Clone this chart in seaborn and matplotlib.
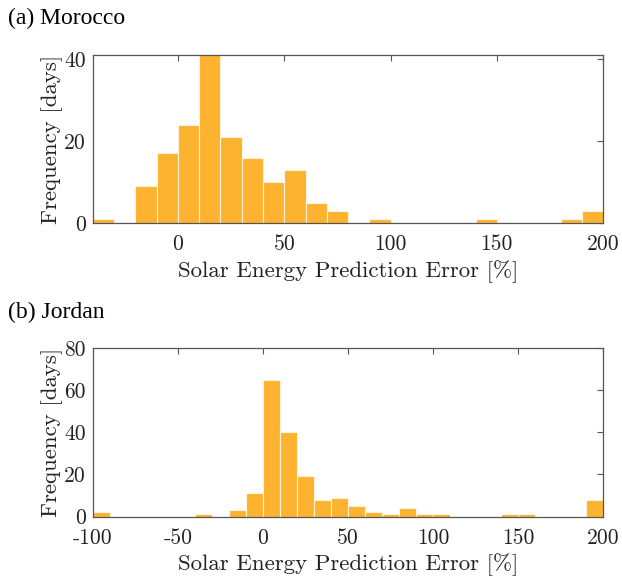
import numpy as np
import pandas as pd
import matplotlib
matplotlib.use("Agg")
import matplotlib.pyplot as plt
import seaborn as sns

# bin counts, 10 % wide bins
morocco_edges = np.arange(-40, 201, 10)
morocco_counts = [1, 0, 9, 17, 24, 41, 21, 16, 10, 13, 5, 3, 0, 1,
                  0, 0, 0, 0, 1, 0, 0, 0, 1, 3]

jordan_edges = np.arange(-100, 201, 10)
jordan_counts = [2, 0, 0, 0, 0, 0, 1, 0, 3, 11, 65, 40, 19, 8, 9, 5, 2, 1,
                 4, 1, 1, 0, 0, 0, 1, 1, 0, 0, 0, 8]

panels = [
    ("(a) Morocco", morocco_edges, morocco_counts, (-40, 200), (0, 41),
     [0, 50, 100, 150, 200], [0, 20, 40]),
    ("(b) Jordan", jordan_edges, jordan_counts, (-100, 200), (0, 80),
     [-100, -50, 0, 50, 100, 150, 200], [0, 20, 40, 60, 80]),
]

BAR = "#FDB32F"


def main():
    sns.set_style("white")
    plt.rcParams["font.family"] = ["cmr10", "DejaVu Serif"]
    plt.rcParams["axes.unicode_minus"] = False
    plt.rcParams["axes.formatter.use_mathtext"] = True

    fig = plt.figure(figsize=(6.22, 5.81), dpi=100)
    boxes = [[0.1495, 0.616, 0.82, 0.289], [0.1495, 0.111, 0.82, 0.290]]
    title_y = [1 - 18 / 581, 1 - 312 / 581]

    for (title, edges, counts, xlim, ylim, xt, yt), box, ty in zip(panels, boxes, title_y):
        ax = fig.add_axes(box)
        df = pd.DataFrame({"err": (edges[:-1] + edges[1:]) / 2,
                           "days": counts})
        sns.histplot(data=df, x="err", weights="days", binwidth=10,
                     binrange=(edges[0], edges[-1]), ax=ax,
                     color=BAR, alpha=1.0, edgecolor="#FFF3DA", linewidth=0.8)
        ax.set_xlim(*xlim)
        ax.set_ylim(*ylim)
        ax.set_xticks(xt)
        ax.set_yticks(yt)
        ax.set_xticklabels([str(v) for v in xt])
        ax.set_yticklabels([str(v) for v in yt])
        ax.tick_params(direction="in", length=4, width=0.8, colors="#555555",
                       labelcolor="#222222", labelsize=15.5, top=True, right=True)
        ax.tick_params(axis="x", pad=8.5)
        ax.tick_params(axis="y", pad=5)
        for s in ax.spines.values():
            s.set_color("#555555")
            s.set_linewidth(0.9)
        ax.set_xlabel("Solar Energy Prediction Error [%]", fontsize=16.5,
                      color="#222222", labelpad=4)
        ax.set_ylabel("Frequency [days]", fontsize=16.5, color="#222222",
                      labelpad=1)
        fig.text(8 / 622, ty, title, fontsize=17, family="Liberation Serif",
                 va="center", ha="left", color="black")

    fig.savefig("out.png", dpi=100)
    plt.close(fig)


if __name__ == "__main__":
    main()
